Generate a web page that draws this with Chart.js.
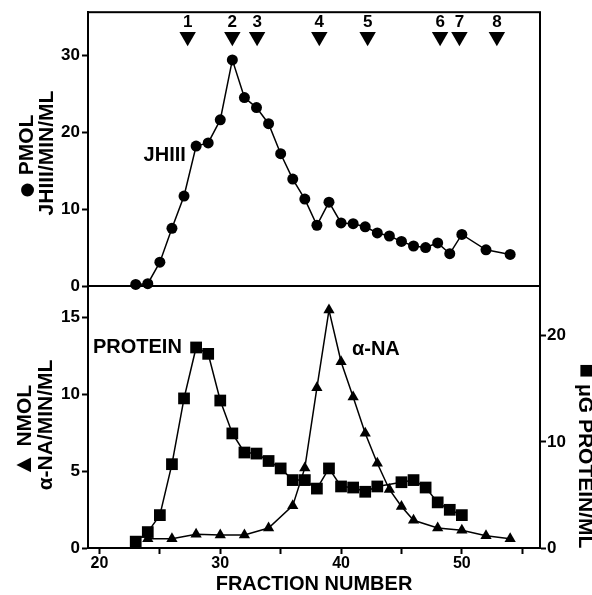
<!DOCTYPE html>
<html>
<head>
<meta charset="utf-8">
<script src="https://cdn.jsdelivr.net/npm/chart.js@4.4.0/dist/chart.umd.min.js"></script>
<style>
  html, body { margin: 0; padding: 0; background: #fff; }
  #wrap { position: relative; width: 592px; height: 595px; }
  #wrap canvas { position: absolute; left: 0; top: 0; }
</style>
</head>
<body>
<div id="wrap">
  <canvas id="topChart" width="592" height="595"></canvas>
  <canvas id="bottomChart" width="592" height="595"></canvas>
</div>
<script>
// JHIII hydrolysis, pmol JHIII/min/ml (top panel)
const jhFractions = [23, 24, 25, 26, 27, 28, 29, 30, 31, 32, 33, 34, 35, 36, 37, 38, 39, 40,
  41, 42, 43, 44, 45, 46, 47, 48, 49, 50, 52, 54];
const jhValues = [0.2, 0.3, 3.1, 7.5, 11.7, 18.2, 18.6, 21.6, 29.4, 24.5, 23.2, 21.1, 17.2, 13.9,
  11.3, 7.9, 10.9, 8.2, 8.1, 7.7, 6.9, 6.5, 5.8, 5.2, 5.0, 5.6, 4.2, 6.7, 4.7, 4.1];

// alpha-NA hydrolysis, nmol/min/ml (bottom panel, left axis)
const naFractions = [24, 26, 28, 30, 32, 34, 36, 37, 38, 39, 40, 41, 42, 43, 44, 45, 46, 48, 50, 52, 54];
const naValues = [0.6, 0.6, 0.9, 0.85, 0.85, 1.3, 2.75, 5.2, 10.4, 15.45, 12.1, 9.8, 7.45, 5.5,
  3.8, 2.7, 1.8, 1.3, 1.15, 0.8, 0.6];

// protein, ug/ml (bottom panel, right axis)
const proteinFractions = [23, 24, 25, 26, 27, 28, 29, 30, 31, 32, 33, 34, 35, 36, 37, 38, 39, 40,
  41, 42, 43, 45, 46, 47, 48, 49, 50];
const proteinValues = [0.6, 1.5, 3.1, 7.9, 14.1, 18.9, 18.3, 13.9, 10.8, 9.0, 8.9, 8.2, 7.5, 6.4,
  6.4, 5.6, 7.5, 5.8, 5.7, 5.3, 5.8, 6.2, 6.4, 5.7, 4.3, 3.6, 3.1];

// numbered arrows along the top
const markerFractions = [27.3, 31, 33.05, 38.2, 42.2, 48.2, 49.8, 52.9];
const markerLabels = ['1', '2', '3', '4', '5', '6', '7', '8'];
const markerLevel = 32.4;

// tick values
const xTicks = [20, 25, 30, 35, 40, 45, 50, 55];
const jhTicks = [0, 10, 20, 30];
const naTicks = [0, 5, 10, 15];
const proteinTicks = [0, 10, 20];

const family = "'Liberation Sans', 'DejaVu Sans', Arial, sans-serif";
const boldFont = (size, lineHeight) => ({ family, size, weight: 'bold', lineHeight: lineHeight || 1.2 });
const toPoints = (xs, ys) => xs.map((x, i) => ({ x, y: ys[i] }));

const xMin = 19.05, xMax = 56.47;

const axisLine = { display: true, color: '#000', width: 2 };
const tickGrid = { drawOnChartArea: false, drawTicks: true, tickLength: 6, tickColor: '#000', tickWidth: 2 };

// box around the top panel
const framePlugin = {
  id: 'frame',
  afterDraw(chart) {
    const { ctx, chartArea: a } = chart;
    ctx.save();
    ctx.strokeStyle = '#000';
    ctx.lineWidth = 2;
    ctx.strokeRect(a.left, a.top, a.right - a.left, a.bottom - a.top);
    ctx.restore();
  }
};

// text labels placed on the scales, plus rotated axis titles (symbol + text)
const annotatePlugin = {
  id: 'annotate',
  afterDraw(chart, args, opts) {
    const ctx = chart.ctx;
    ctx.save();
    ctx.fillStyle = '#000';
    ctx.textBaseline = 'middle';
    (opts.labels || []).forEach(l => {
      const x = chart.scales.x.getPixelForValue(l.x);
      const y = chart.scales[l.axis].getPixelForValue(l.y) + (l.dy || 0);
      ctx.font = 'bold ' + l.size + 'px ' + family;
      ctx.textAlign = l.align || 'center';
      ctx.fillText(l.text, x, y);
    });
    (opts.titles || []).forEach(t => {
      ctx.save();
      ctx.translate(t.cx, t.cy);
      ctx.rotate(t.rotation);
      ctx.textAlign = 'left';
      const widths = t.parts.map(p => {
        ctx.font = 'bold ' + p.size + 'px ' + family;
        return ctx.measureText(p.text).width;
      });
      let x = -widths.reduce((a, b) => a + b, 0) / 2;
      t.parts.forEach((p, i) => {
        ctx.font = 'bold ' + p.size + 'px ' + family;
        ctx.fillText(p.text, x, p.dy || 0);
        x += widths[i];
      });
      ctx.restore();
    });
    ctx.restore();
  }
};

new Chart(document.getElementById('topChart'), {
  type: 'scatter',
  data: {
    datasets: [
      {
        label: 'JHIII',
        data: toPoints(jhFractions, jhValues),
        showLine: true,
        borderColor: '#000',
        borderWidth: 1.5,
        pointStyle: 'circle',
        pointRadius: 5.5,
        pointBackgroundColor: '#000',
        pointBorderColor: '#000',
        pointBorderWidth: 0,
        clip: false
      },
      {
        label: 'fractions',
        data: markerFractions.map(x => ({ x, y: markerLevel })),
        showLine: false,
        pointStyle: 'triangle',
        pointRotation: 180,
        pointRadius: 9.5,
        pointBackgroundColor: '#000',
        pointBorderColor: '#000',
        pointBorderWidth: 0,
        clip: false
      }
    ]
  },
  options: {
    responsive: false,
    animation: false,
    layout: { padding: { left: 0, right: 52, top: 12, bottom: 309 } },
    plugins: {
      legend: { display: false },
      tooltip: { enabled: false },
      annotate: {
        labels: markerFractions.map((x, i) => ({
          text: markerLabels[i], x, y: markerLevel, axis: 'y', dy: -14, size: 17
        })).concat([{ text: 'JHIII', x: 25.4, y: 17.0, axis: 'y', size: 20 }]),
        titles: [
          { parts: [{ text: '\u25CF', size: 30, dy: 1 }, { text: ' PMOL', size: 21 }], cx: 27, cy: 157, rotation: -Math.PI / 2 },
          { parts: [{ text: 'JHIII/MIN/ML', size: 21 }], cx: 47, cy: 153, rotation: -Math.PI / 2 }
        ]
      }
    },
    scales: {
      x: { type: 'linear', display: false, min: xMin, max: xMax },
      y: {
        min: 0,
        max: 35.6,
        afterFit: s => { s.width = 88; },
        afterBuildTicks: s => { s.ticks = jhTicks.map(v => ({ value: v })); },
        border: axisLine,
        grid: tickGrid,
        ticks: { color: '#000', font: boldFont(17), padding: 2 }
      }
    }
  },
  plugins: [framePlugin, annotatePlugin]
});

new Chart(document.getElementById('bottomChart'), {
  type: 'scatter',
  data: {
    datasets: [
      {
        label: 'PROTEIN',
        data: toPoints(proteinFractions, proteinValues),
        yAxisID: 'yProtein',
        showLine: true,
        borderColor: '#000',
        borderWidth: 1.5,
        pointStyle: 'rect',
        pointRadius: 8.3,
        pointBackgroundColor: '#000',
        pointBorderColor: '#000',
        pointBorderWidth: 0,
        clip: false
      },
      {
        label: 'α-NA',
        data: toPoints(naFractions, naValues),
        yAxisID: 'yNa',
        showLine: true,
        borderColor: '#000',
        borderWidth: 1.5,
        pointStyle: 'triangle',
        pointRadius: 6.5,
        pointBackgroundColor: '#000',
        pointBorderColor: '#000',
        pointBorderWidth: 0,
        clip: false
      }
    ]
  },
  options: {
    responsive: false,
    animation: false,
    layout: { padding: { left: 0, right: 0, top: 287, bottom: 0 } },
    plugins: {
      legend: { display: false },
      tooltip: { enabled: false },
      annotate: {
        labels: [
          { text: 'PROTEIN', x: 19.46, y: 13.0, axis: 'yNa', align: 'left', size: 20 },
          { text: 'α-NA', x: 40.9, y: 12.9, axis: 'yNa', align: 'left', size: 20 }
        ],
        titles: [
          { parts: [{ text: '\u25B2', size: 25, dy: -1 }, { text: ' NMOL', size: 21 }], cx: 25, cy: 431, rotation: -Math.PI / 2 },
          { parts: [{ text: 'α-NA/MIN/ML', size: 21 }], cx: 46, cy: 425, rotation: -Math.PI / 2 },
          { parts: [{ text: '\u25A0', size: 24, dy: -1 }, { text: ' μG PROTEIN/ML', size: 21 }], cx: 585, cy: 456, rotation: Math.PI / 2 }
        ]
      }
    },
    scales: {
      x: {
        type: 'linear',
        min: xMin,
        max: xMax,
        afterFit: s => { s.height = 47; },
        afterBuildTicks: s => { s.ticks = xTicks.map(v => ({ value: v })); },
        border: axisLine,
        grid: tickGrid,
        ticks: {
          color: '#000', font: boldFont(16, 1), padding: 2, autoSkip: false, maxRotation: 0,
          callback: v => (v % 10 === 0 ? v : '')
        },
        title: {
          display: true, text: 'FRACTION NUMBER', color: '#000',
          font: boldFont(20, 1), padding: { top: 0, bottom: 1 }
        }
      },
      yNa: {
        position: 'left',
        min: 0,
        max: 16.95,
        afterFit: s => { s.width = 88; },
        afterBuildTicks: s => { s.ticks = naTicks.map(v => ({ value: v })); },
        border: axisLine,
        grid: tickGrid,
        ticks: { color: '#000', font: boldFont(17), padding: 2 }
      },
      yProtein: {
        position: 'right',
        min: 0,
        max: 24.6,
        afterFit: s => { s.width = 52; },
        afterBuildTicks: s => { s.ticks = proteinTicks.map(v => ({ value: v })); },
        border: axisLine,
        grid: tickGrid,
        ticks: { color: '#000', font: boldFont(17), padding: 1 }
      }
    }
  },
  plugins: [annotatePlugin]
});
</script>
</body>
</html>
